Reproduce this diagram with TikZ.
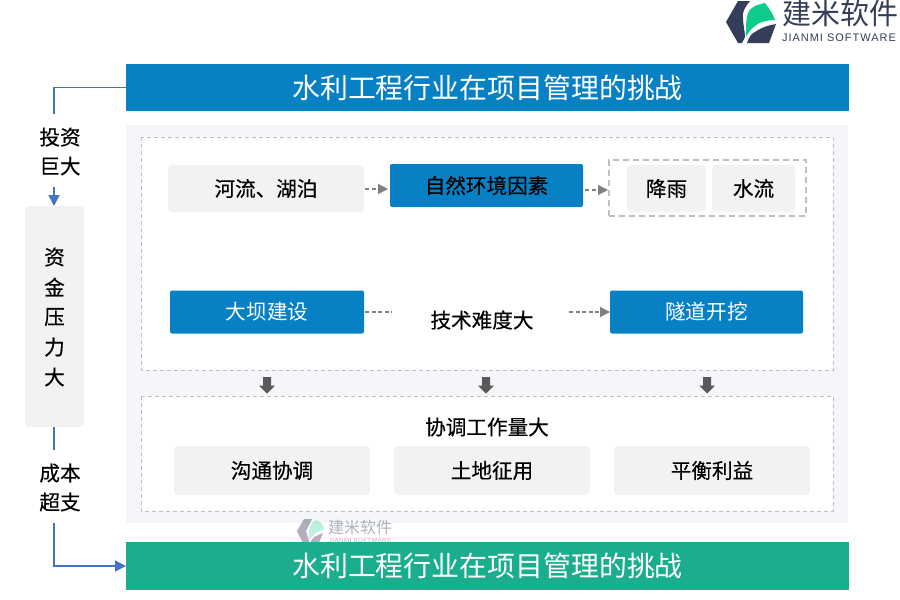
\documentclass[tikz,border=0pt]{standalone}
\usepackage{fontspec}
\setmainfont{Noto Sans CJK SC}
\newfontfamily\labelfont{Noto Sans CJK SC}[FakeBold=0.35]
\newfontfamily\latinfont{Liberation Sans}
\newfontfamily\spacedfont{Liberation Sans}[LetterSpace=9]
\usetikzlibrary{arrows.meta}
\definecolor{barblue}{HTML}{0780C4}
\definecolor{bargreen}{HTML}{1AAE8E}
\definecolor{panelbg}{HTML}{F4F6FA}
\definecolor{softgray}{HTML}{F2F2F2}
\definecolor{dashgray}{HTML}{BFBFBF}
\definecolor{arrgray}{HTML}{808080}
\definecolor{blockgray}{HTML}{595959}
\definecolor{linkblue}{HTML}{4472C4}
\definecolor{logodark}{HTML}{343D59}
\definecolor{logogreen}{HTML}{0CCB8B}
\tikzset{
  every node/.style={inner sep=0pt,outer sep=0pt,text=black},
  bar/.style={minimum width=723pt,minimum height=47pt,text=white,font=\fontsize{27.9}{30}\selectfont},
  softbox/.style={fill=softgray,rounded corners=4pt,minimum height=47pt,font=\labelfont\fontsize{20.6}{24}\selectfont},
  bluebox/.style={fill=barblue,rounded corners=2pt,minimum height=43pt,font=\labelfont\fontsize{20.6}{24}\selectfont},
  whitetext/.style={font=\fontsize{20.6}{24}\selectfont,text=white},
  dashbox/.style={draw=dashgray,line width=0.8pt,dash pattern=on 4pt off 3pt},
  thickdash/.style={draw=dashgray,line width=1.8pt,dash pattern=on 6pt off 4pt},
  graydash/.style={draw=arrgray,line width=1.2pt,dash pattern=on 4pt off 2.5pt},
  grayarrow/.style={graydash,-{Triangle[length=10pt,width=10pt,fill=arrgray]}},
  bluelink/.style={draw=linkblue,line width=1.5pt},
  bluearrow/.style={bluelink,-{Triangle[length=11pt,width=11pt,fill=linkblue]}},
  lbl/.style={font=\labelfont\fontsize{20.6}{29}\selectfont,align=center},
}
\begin{document}
\begin{tikzpicture}[x=1pt,y=-1pt]
\useasboundingbox (0,0) rectangle (900,600);
% panel
\fill[panelbg] (126,125) rectangle (848,523);
\fill[white] (141,137) rectangle (833,370.5);
\fill[white] (141,396) rectangle (833,511);
\draw[dashbox] (141,137) rectangle (833,370.5);
\draw[dashbox] (141,396) rectangle (833,511);
% watermark
\begin{scope}[opacity=0.4]
  \fill[logodark] (297,531) -- (304,519) -- (312,519) -- (306,531) -- (309,541) -- (307,545) -- (304,545) -- cycle;
  \fill[logodark] (308,545) -- (314,537) -- (323,533) -- (318,545) -- cycle;
  \fill[logogreen!70] (309,541) .. controls (308,530) and (310,522) .. (317,520) .. controls (321,522) and (324,526) .. (324,530) .. controls (318,530) and (312,535) .. (309,541) -- cycle;
  \node[text=logodark,font=\fontsize{16}{18}\selectfont] (wm1) at (360,527.5) {建米软件};
  \node[text=logodark,font=\spacedfont\fontsize{6}{7}\selectfont] (wm2) at (360,540.5) {JIANMI SOFTWARE};
\end{scope}
% bars
\node[bar,fill=barblue] (top) at (487.5,87.5) {水利工程行业在项目管理的挑战};
\node[bar,fill=bargreen,minimum height=48pt] (bottom) at (487.5,566) {水利工程行业在项目管理的挑战};
% row 1
\node[softbox,minimum width=196pt] (river) at (266,188.5) {河流、湖泊};
\node[bluebox,minimum width=193pt] (nature) at (486.5,185.5) {自然环境因素};
\node[softbox,minimum width=79pt] (rain) at (666.5,188.5) {降雨};
\node[softbox,minimum width=83pt] (flow) at (753.5,188.5) {水流};
\node[thickdash,minimum width=197pt,minimum height=56pt] (group) at (707.5,188) {};
\coordinate (natIn) at (388,189);
\coordinate (grpIn) at (608,190);
\draw[grayarrow] (river.east) ++(1,0.5) -- (natIn);
\draw[grayarrow] (nature.east) ++(2,4.5) -- (grpIn);
% row 2
\node[bluebox,minimum width=194pt,whitetext] (dam) at (267,312) {大坝建设};
\node[bluebox,minimum width=193pt,whitetext] (tunnel) at (706.5,312) {隧道开挖};
\node[lbl] (tech) at (482,320) {技术难度大};
\coordinate (techL) at (392,312);
\coordinate (techR) at (569,312);
\draw[graydash] (dam.east) ++(1,0) -- (techL);
\draw[grayarrow] (techR) -- (tunnel.west);
% block arrows
\foreach \n/\x in {a/267,b/486,c/707}{
  \fill[blockgray] (\x-4,377) -- (\x+4,377) -- (\x+4,385.5) -- (\x+8,385.5) -- (\x,393.5) -- (\x-8,385.5) -- (\x-4,385.5) -- cycle;
}
% row 3
\node[lbl] (coord) at (487,427) {协调工作量大};
\node[softbox,minimum width=196pt,minimum height=49pt] (comm) at (272,470.5) {沟通协调};
\node[softbox,minimum width=196pt,minimum height=49pt] (land) at (492,470.5) {土地征用};
\node[softbox,minimum width=196pt,minimum height=49pt] (bal) at (712,470.5) {平衡利益};
% left column
\node[fill=softgray,rounded corners=4pt,minimum width=59pt,minimum height=221pt] (fund) at (54.5,316.5) {};
\foreach \t/\y in {资/257,金/287,压/317,力/347,大/377}{
  \node[font=\labelfont\fontsize{20.6}{24}\selectfont] at (54.5,\y) {\t};
}
\node[lbl] (invest) at (60,151.5) {投资\\巨大};
\node[lbl] (cost) at (60,487.5) {成本\\超支};
\coordinate (upA) at (54,114);
\coordinate (upB) at (54,187);
\coordinate (lowA) at (54,450);
\coordinate (lowB) at (54,523);
\draw[bluelink] (top.west) -| (upA);
\draw[bluearrow] (upB) -- (upB |- fund.north);
\draw[bluelink] (upB |- fund.south) -- (lowA);
\draw[bluearrow] (lowB) |- (bottom.west);
% logo
\fill[logodark] (726,22) -- (738,1) -- (750,1) .. controls (745,7) and (742,12) .. (743,18) .. controls (743,25) and (745,31) .. (745,37) -- (742,43) -- (738,43) -- cycle;
\fill[logodark] (747,43) .. controls (749,37) and (751,34) .. (755,32) .. controls (762,27) and (770,25) .. (776,24) -- (769,43) -- cycle;
\fill[logogreen] (746,37) .. controls (746,26) and (746,18) .. (748,13) .. controls (750,8) and (755,5) .. (765,3) .. controls (769,8) and (773,14) .. (775,20) .. controls (768,20) and (759,22) .. (755,26) .. controls (751,29) and (748,33) .. (746,37) -- cycle;
\node[text=logodark,font=\fontsize{29}{32}\selectfont] (brand) at (840,13.5) {建米软件};
\node[text=logodark,font=\spacedfont\fontsize{11}{13}\selectfont] (brand2) at (839,38) {JIANMI SOFTWARE};
\end{tikzpicture}
\end{document}
